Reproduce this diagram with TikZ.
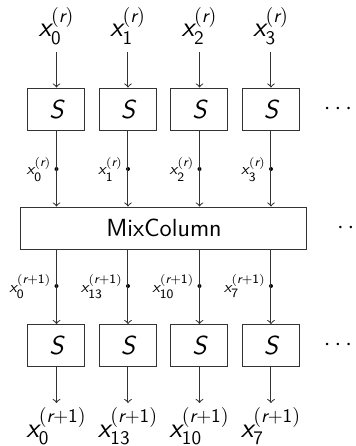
\documentclass[tikz,border=0pt]{standalone}
\usepackage{amsmath}
\usetikzlibrary{positioning}
\renewcommand{\familydefault}{\sfdefault}
% large scripts on the state labels
\DeclareMathSizes{14}{14}{9.6}{7.5}
\DeclareMathSizes{7.8}{7.8}{6.4}{5}

% state byte x_i^{(r...)} set in sans italic
\newcommand{\xb}[2]{\text{\itshape x}_{\text{#1}}^{(\text{\itshape r}\text{#2})}}

\begin{document}
\begin{tikzpicture}[
  x=0.5pt, y=0.5pt,
  line width=0.5pt,
  sbox/.style={draw=black!80, minimum width=28.5pt, minimum height=21pt,
               inner sep=0pt, font=\fontsize{13}{15}\selectfont},
  mixbox/.style={draw=black!80, minimum width=143pt, minimum height=21pt,
                 inner sep=0pt, font=\fontsize{12.4}{14}\selectfont},
  big/.style={font=\fontsize{14}{16}\selectfont, inner sep=0pt, anchor=base},
  small/.style={font=\fontsize{7.8}{9}\selectfont, inner sep=0pt,
                anchor=base east, xshift=-1pt, yshift=-3pt},
  tap/.style={circle, fill=black, inner sep=0pt, minimum size=2pt},
  more/.style={inner sep=0pt, font=\fontsize{12.4}{14}\selectfont},
  arr/.style={->, draw=black!80},
]
\useasboundingbox (0,0) rectangle (356,446);

% MixColumn layer
\node[mixbox] (mix) at (164,218) {MixColumn};

\foreach \i/\o in {0/0,1/13,2/10,3/7} {
  \pgfmathsetmacro{\cx}{56.5+71.5*\i}
  % inputs and first S-box layer
  \node[big] (in\i) at (\cx,409) {$\xb{\i}{}$};
  \node[sbox] (sa\i) at (\cx,337) {$\textit{S}$};
  \coordinate (top\i) at (\cx,394);
  \draw[arr] (top\i) -- (sa\i);
  % tap between S-box and MixColumn
  \node[tap] (d\i) at (\cx,277) {};
  \node[small] at (d\i.west) {$\xb{\i}{}$};
  \draw[arr] (sa\i) -- (sa\i |- mix.north);
  % tap after MixColumn
  \node[tap] (e\i) at (\cx,160) {};
  \node[small] at (e\i.west) {$\xb{\o}{+1}$};
  % second S-box layer and outputs
  \node[sbox] (sb\i) at (\cx,100.5) {$\textit{S}$};
  \draw[arr] (mix.south -| sb\i) -- (sb\i);
  \coordinate (bot\i) at (\cx,43);
  \draw[arr] (sb\i) -- (bot\i);
  \node[big] (out\i) at (\cx,9) {$\xb{\o}{+1}$};
}

% more columns to the right
\node[more] (dotsa) at (340,337) {$\cdots$};
\node[more] (dotsm) at (353,218) {$\cdots$};
\node[more] (dotsb) at (340,100.5) {$\cdots$};

\end{tikzpicture}
\end{document}
